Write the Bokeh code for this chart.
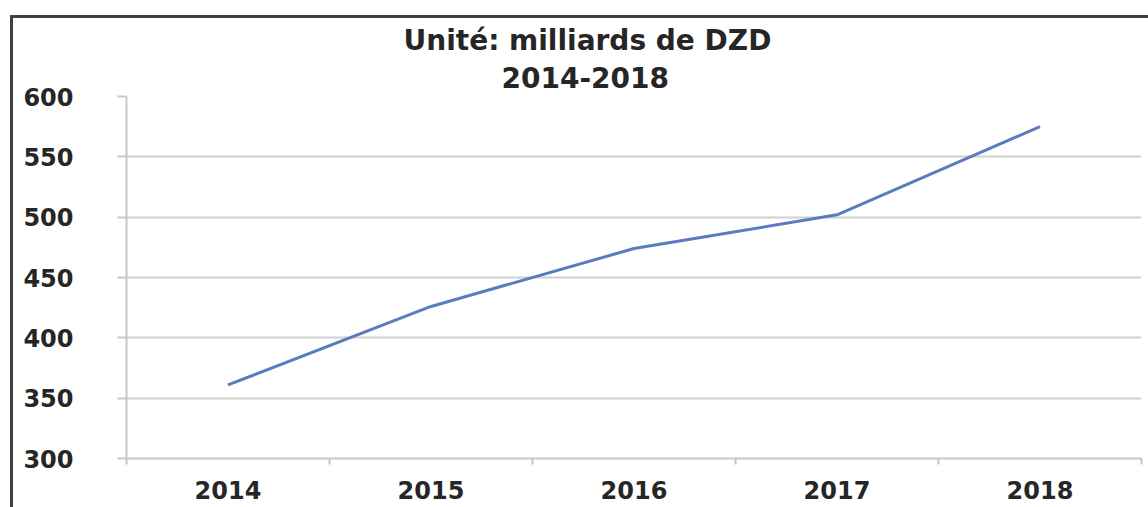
from bokeh.plotting import figure
from bokeh.models import Title, FixedTicker, Range1d
from bokeh.embed import file_html
from bokeh.resources import INLINE

years = [2014, 2015, 2016, 2017, 2018]
values = [361, 426, 474, 502, 575]
y_ticks = [300, 350, 400, 450, 500, 550, 600]
title_lines = ["Unité: milliards de DZD", "2014-2018"]

FONT = "DejaVu Sans"
W, H = 1135, 489

p = figure(width=W, height=H, output_backend="svg", toolbar_location=None,
           x_range=Range1d(years[0] - 0.5, years[-1] + 0.5),
           y_range=Range1d(y_ticks[0], y_ticks[-1]),
           min_border_left=113, min_border_right=10, min_border_top=78, min_border_bottom=52)
p.styles = {"border-left": "3px solid #404040", "border-top": "3px solid #404040",
            "margin-left": "10px", "margin-top": "15px", "box-sizing": "content-box"}
p.outline_line_color = None
p.background_fill_color = "white"
p.border_fill_color = "white"

p.line(years, values, line_color="#5a7cbd", line_width=3)

# axes
p.xaxis.ticker = FixedTicker(ticks=years, minor_ticks=[y - 0.5 for y in years] + [years[-1] + 0.5])
p.xaxis.major_tick_line_color = None
p.xaxis.minor_tick_line_color = "#c4c4c4"
p.xaxis.minor_tick_line_width = 2
p.xaxis.minor_tick_out = 6
p.xaxis.minor_tick_in = 0
p.xaxis.axis_line_color = "#c8c8c8"
p.xaxis.axis_line_width = 2
p.xaxis.major_label_standoff = 16
p.xaxis.major_label_text_font = FONT
p.xaxis.major_label_text_font_style = "bold"
p.xaxis.major_label_text_font_size = "24px"
p.xaxis.major_label_text_color = "#262626"

p.yaxis.ticker = FixedTicker(ticks=y_ticks)
p.yaxis.minor_tick_line_color = None
p.yaxis.major_tick_line_color = "#c8c8c8"
p.yaxis.major_tick_line_width = 2
p.yaxis.major_tick_out = 9
p.yaxis.major_tick_in = 0
p.yaxis.axis_line_color = "#c8c8c8"
p.yaxis.axis_line_width = 2
p.yaxis.major_label_standoff = 44
p.yaxis.major_label_text_font = FONT
p.yaxis.major_label_text_font_style = "bold"
p.yaxis.major_label_text_font_size = "24px"
p.yaxis.major_label_text_color = "#262626"

p.xgrid.grid_line_color = None
p.ygrid.grid_line_color = "#d0d0d0"
p.ygrid.grid_line_width = 2

# title (two lines); first added sits nearest the frame; offset = left start from frame edge
for t, so, off in ((title_lines[1], 17, 375), (title_lines[0], 0, 277)):
    p.add_layout(Title(text=t, align="left", offset=off, standoff=so, text_font=FONT,
                       text_font_style="bold", text_font_size="28px", text_color="#262626"), "above")

open("out.html", "w").write(file_html(p, INLINE))
